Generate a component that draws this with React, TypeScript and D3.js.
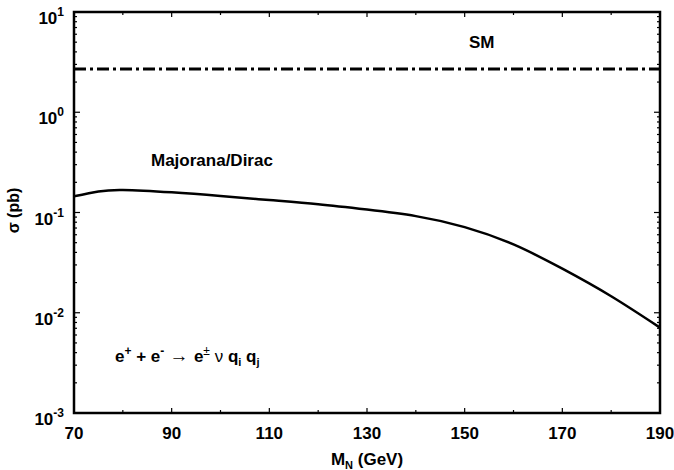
import React, { useRef, useEffect } from "react";
import * as d3 from "d3";

// sigma (pb) vs M_N (GeV)
const massPoints = [70, 75, 80, 90, 100, 110, 120, 130, 140, 150, 160, 170, 180, 190];
const sigmaMajDirac = [0.145, 0.162, 0.168, 0.159, 0.146, 0.133, 0.121, 0.107, 0.092, 0.0715, 0.048, 0.0275, 0.0146, 0.0071];
const smSigma = 2.7;

const xTickLabels = [70, 90, 110, 130, 150, 170, 190];
const yDecades = [-3, -2, -1, 0, 1];

const FONT = "'Liberation Sans', Arial, Helvetica, sans-serif";

const App: React.FC = () => {
  const ref = useRef<SVGSVGElement | null>(null);

  useEffect(() => {
    if (!ref.current) return;
    const svg = d3.select(ref.current);
    svg.selectAll("*").remove();

    const width = 674;
    const height = 470;
    const margin = { top: 12, right: 14, bottom: 57, left: 74 };
    const x0 = margin.left;
    const x1 = width - margin.right;
    const y0 = height - margin.bottom;
    const y1 = margin.top;

    const x = d3.scaleLinear().domain([70, 190]).range([x0, x1]);
    const y = d3.scaleLog().domain([1e-3, 10]).range([y0, y1]);

    const g = svg.append("g");

    // ticks, inward, on all four sides
    const ticks = g.append("g").attr("stroke", "#000").attr("stroke-width", 1.2);
    for (let m = 70; m <= 190; m += 10) {
      const major = xTickLabels.includes(m);
      const len = major ? 5 : 3;
      ticks.append("line").attr("x1", x(m)).attr("x2", x(m)).attr("y1", y0).attr("y2", y0 - len);
      ticks.append("line").attr("x1", x(m)).attr("x2", x(m)).attr("y1", y1).attr("y2", y1 + len);
    }
    yDecades.forEach((d) => {
      for (let k = 1; k <= 9; k++) {
        const v = k * Math.pow(10, d);
        if (v > 10 || (d === 1 && k > 1)) continue;
        const len = k === 1 ? 6 : 3;
        ticks.append("line").attr("x1", x0).attr("x2", x0 + len).attr("y1", y(v)).attr("y2", y(v));
        ticks.append("line").attr("x1", x1).attr("x2", x1 - len).attr("y1", y(v)).attr("y2", y(v));
      }
    });

    // frame
    g.append("rect")
      .attr("x", x0)
      .attr("y", y1)
      .attr("width", x1 - x0)
      .attr("height", y0 - y1)
      .attr("fill", "none")
      .attr("stroke", "#000")
      .attr("stroke-width", 2.5);

    // SM line
    g.append("line")
      .attr("x1", x(70))
      .attr("x2", x(190))
      .attr("y1", y(smSigma))
      .attr("y2", y(smSigma))
      .attr("stroke", "#000")
      .attr("stroke-width", 3)
      .attr("stroke-dasharray", "12,4,3,4");

    // Majorana/Dirac curve
    const data = massPoints.map((m, i) => [m, sigmaMajDirac[i]] as [number, number]);
    const line = d3
      .line<[number, number]>()
      .x((d) => x(d[0]))
      .y((d) => y(d[1]))
      .curve(d3.curveNatural);
    g.append("path")
      .datum(data)
      .attr("d", line)
      .attr("fill", "none")
      .attr("stroke", "#000")
      .attr("stroke-width", 2.5);

    const txt = g.append("g").attr("font-family", FONT).attr("font-weight", "bold").attr("fill", "#000");

    // x tick labels
    xTickLabels.forEach((m) => {
      txt.append("text")
        .attr("x", x(m))
        .attr("y", y0 + 26)
        .attr("text-anchor", "middle")
        .attr("font-size", 17)
        .text(m);
    });

    // y tick labels: 10^n
    yDecades.forEach((d) => {
      const t = txt.append("text")
        .attr("x", x0 - 10)
        .attr("y", y(Math.pow(10, d)) + 12)
        .attr("text-anchor", "end")
        .attr("font-size", 17);
      t.append("tspan").text("10");
      t.append("tspan").attr("dy", -8).attr("font-size", 12).text(String(d));
    });

    // axis titles
    const xt = txt.append("text")
      .attr("x", (x0 + x1) / 2)
      .attr("y", height - 5)
      .attr("text-anchor", "middle")
      .attr("font-size", 17);
    xt.append("tspan").text("M");
    xt.append("tspan").attr("dy", 4).attr("font-size", 11).text("N");
    xt.append("tspan").attr("dy", -4).text(" (GeV)");

    txt.append("text")
      .attr("transform", `translate(19,${(y0 + y1) / 2 - 2}) rotate(-90)`)
      .attr("text-anchor", "middle")
      .attr("font-size", 16)
      .text("σ (pb)");

    // annotations
    txt.append("text").attr("x", 469).attr("y", 48).attr("font-size", 17).text("SM");
    txt.append("text").attr("x", 151).attr("y", 166).attr("font-size", 17).text("Majorana/Dirac");

    const f = txt.append("text").attr("x", 115).attr("y", 362).attr("font-size", 17);
    f.append("tspan").text("e");
    f.append("tspan").attr("dy", -7).attr("font-size", 12).text("+");
    f.append("tspan").attr("dy", 7).text(" + e");
    f.append("tspan").attr("dy", -7).attr("font-size", 12).text("-");
    f.append("tspan").attr("dy", 7).attr("font-weight", "normal").attr("font-size", 19).text(" → ");
    f.append("tspan").text("e");
    f.append("tspan").attr("dy", -7).attr("font-size", 12).attr("font-weight", "normal").text("±");
    f.append("tspan").attr("dy", 7).attr("font-weight", "normal").text(" ν ");
    f.append("tspan").text("q");
    f.append("tspan").attr("dy", 4).attr("font-size", 11).text("i");
    f.append("tspan").attr("dy", -4).text(" q");
    f.append("tspan").attr("dy", 4).attr("font-size", 11).text("j");
  }, []);

  return (
    <svg
      ref={ref}
      width={674}
      height={470}
      style={{ position: "absolute", left: 0, top: 0, background: "#fff" }}
    />
  );
};

export default App;
